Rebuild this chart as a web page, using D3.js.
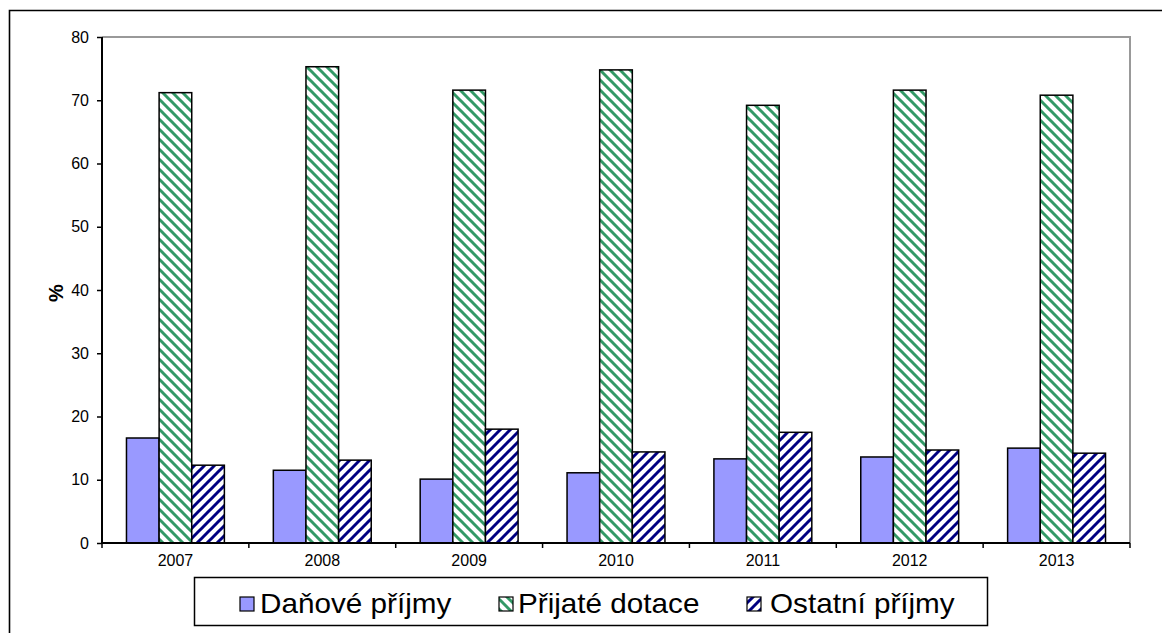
<!DOCTYPE html>
<html><head><meta charset="utf-8">
<script src="https://cdn.jsdelivr.net/npm/d3@7"></script>
<style>body{margin:0;background:#fff}svg{display:block}text{font-family:"Liberation Sans",Arial,sans-serif}</style>
</head><body><svg id="c" width="1162" height="633"></svg>
<script>
const years = ["2007","2008","2009","2010","2011","2012","2013"];
const seriesNames = ["Daňové příjmy","Přijaté dotace","Ostatní příjmy"];
const danove = [16.6, 11.5, 10.1, 11.1, 13.3, 13.6, 15.0];
const dotace = [71.2, 75.3, 71.6, 74.8, 69.2, 71.6, 70.8];
const ostatni = [12.3, 13.1, 18.0, 14.4, 17.5, 14.7, 14.2];
const yTicks = [0,10,20,30,40,50,60,70,80];
const seriesValues = [danove, dotace, ostatni];

const svg = d3.select("#c");
const defs = svg.append("defs");
function stripePattern(id, color, dir){
  const s = 10;
  const p = defs.append("pattern").attr("id", id).attr("patternUnits","userSpaceOnUse")
    .attr("width", s).attr("height", s);
  p.append("rect").attr("width",s).attr("height",s).attr("fill","#fff");
  const lines = dir === "down"
    ? [[-3,-3,s+3,s+3],[-s-3,-3,3,s+3],[s-3,-3,2*s+3,s+3]]
    : [[-3,s+3,s+3,-3],[-s-3,s+3,3,-3],[s-3,s+3,2*s+3,-3]];
  lines.forEach(l => p.append("line").attr("x1",l[0]).attr("y1",l[1]).attr("x2",l[2]).attr("y2",l[3])
    .attr("stroke", color).attr("stroke-width", 3));
}
stripePattern("pg", "#339966", "down");
stripePattern("pn", "#000080", "up");
const fills = ["#9999ff", "url(#pg)", "url(#pn)"];

// outer frame
svg.append("path").attr("d","M9.5,633 V10.5 H1162").attr("fill","none").attr("stroke","#000").attr("stroke-width",1.6);

const L = 102, R = 1130, T = 37, B = 543;
const x = d3.scaleBand().domain(years).range([L, R]).paddingInner(0).paddingOuter(0);
const gw = x.bandwidth();
const barW = gw / 4.5;
const xs = d3.scaleBand().domain(d3.range(3)).range([0, barW*3]);
const y = d3.scaleLinear().domain([0, 80]).range([B, T]);

// plot border (gray top and right)
svg.append("path").attr("d",`M${L},${T} H${R} V${B}`).attr("fill","none").attr("stroke","#999").attr("stroke-width",2);

// bars
seriesValues.forEach((vals, si) => {
  svg.append("g").selectAll("rect").data(vals).join("rect")
    .attr("x", (d,i) => x(years[i]) + (gw - barW*3)/2 + xs(si))
    .attr("y", d => y(d))
    .attr("width", xs.bandwidth())
    .attr("height", d => B - y(d))
    .attr("fill", fills[si])
    .attr("stroke", "#000").attr("stroke-width", 1.5);
});

// y axis
const ya = svg.append("g").attr("transform", `translate(${L},0)`)
  .call(d3.axisLeft(y).tickValues(yTicks).tickSize(5).tickPadding(8).tickFormat(d3.format("d")));
ya.select(".domain").attr("stroke","#000").attr("stroke-width",2).attr("d",`M0,${T}V${B}`);
ya.selectAll(".tick line").attr("stroke","#000").attr("stroke-width",1.5);
ya.selectAll(".tick text").attr("font-size",16).attr("fill","#000").style("font-family","Liberation Sans, Arial, sans-serif");

// x axis
const xa = svg.append("g").attr("transform", `translate(0,${B})`)
  .call(d3.axisBottom(x).tickSize(0).tickPadding(12));
xa.select(".domain").attr("stroke","#000").attr("stroke-width",2).attr("d",`M${L},0H${R}`);
xa.selectAll(".tick text").attr("font-size",16).attr("fill","#000").style("font-family","Liberation Sans, Arial, sans-serif");
// category boundary ticks
svg.append("g").selectAll("line").data(years.slice(1).concat(["end"])).join("line")
  .attr("x1", d => d === "end" ? R : x(d)).attr("x2", d => d === "end" ? R : x(d))
  .attr("y1", B).attr("y2", B + 5).attr("stroke","#000").attr("stroke-width",1.5);
svg.append("line").attr("x1",L).attr("x2",L).attr("y1",B).attr("y2",B+5).attr("stroke","#000").attr("stroke-width",1.5);

// y label
svg.append("text").attr("transform","translate(63,293) rotate(-90)").attr("text-anchor","middle")
  .attr("font-size",20).attr("font-weight","bold").text("%");

// legend
const lg = svg.append("g");
lg.append("rect").attr("x",194.5).attr("y",577.5).attr("width",793).attr("height",48)
  .attr("fill","#fff").attr("stroke","#000").attr("stroke-width",1.5);
const legText = [260, 518, 770];
const legSw = [240, 499, 747];
seriesNames.forEach((n, i) => {
  lg.append("rect").attr("x", legSw[i]).attr("y", 597).attr("width", 14).attr("height", 14)
    .attr("fill", fills[i]).attr("stroke","#000").attr("stroke-width",1.2);
  lg.append("text").attr("transform", `translate(${legText[i]},613) scale(1.06,1)`)
    .attr("font-size", 28).attr("fill","#000").text(n);
});
</script></body></html>
